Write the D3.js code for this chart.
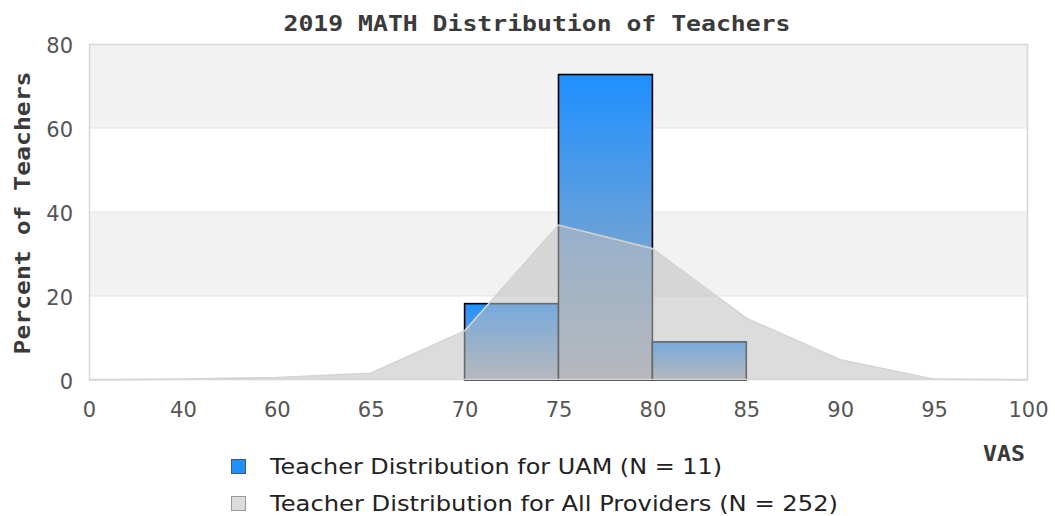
<!DOCTYPE html>
<html><head><meta charset="utf-8">
<script src="https://cdn.jsdelivr.net/npm/d3@7"></script>
<style>body{margin:0;background:#fff}</style>
</head><body><svg id="c" width="1055" height="516"></svg>
<script>
const categories = ["0","40","60","65","70","75","80","85","90","95","100"];
const allProviders = [0,0.2,0.6,1.6,11.7,36.9,31.3,14.7,4.8,0.2,0];
const uamBins = ["70","75","80"];
const uamValues = [18.18,72.73,9.09];
const yTicks = [0,20,40,60,80];
const titleText = "2019 MATH Distribution of Teachers";
const yTitle = "Percent of Teachers";
const xTitle = "VAS";
const legendLabels = ["Teacher Distribution for UAM (N = 11)","Teacher Distribution for All Providers (N = 252)"];

const svg = d3.select("#c");
const L = 89, R = 1028, T = 44, B = 380;
const x = d3.scalePoint().domain(categories).range([L, R]);
const y = d3.scaleLinear().domain([0, 80]).range([B, T]);

const defs = svg.append("defs");
const g = defs.append("linearGradient").attr("id","barGrad").attr("x1",0).attr("y1",0).attr("x2",0).attr("y2",1);
g.append("stop").attr("offset","0%").attr("stop-color","#1e90ff");
g.append("stop").attr("offset","100%").attr("stop-color","#acb0b8");

// bands
for (let i = 0; i < yTicks.length - 1; i++) {
  svg.append("rect").attr("x", L).attr("width", R - L)
    .attr("y", y(yTicks[i+1])).attr("height", y(yTicks[i]) - y(yTicks[i+1]))
    .attr("fill", i % 2 === 1 ? "#f2f2f2" : "#ffffff");
}
svg.selectAll("line.grid").data(yTicks.slice(1, -1)).enter().append("line")
  .attr("x1", L).attr("x2", R).attr("y1", d => y(d)).attr("y2", d => y(d))
  .attr("stroke", "#e3e3e3").attr("stroke-width", 1);

// bars
svg.selectAll("rect.bar").data(uamBins).enter().append("rect")
  .attr("x", d => x(d))
  .attr("width", d => x(categories[categories.indexOf(d) + 1]) - x(d))
  .attr("y", (d, i) => y(uamValues[i]))
  .attr("height", (d, i) => y(0) - y(uamValues[i]))
  .attr("fill", "url(#barGrad)").attr("stroke", "#000").attr("stroke-width", 1.6);

// area overlay
const area = d3.area().x((d, i) => x(categories[i])).y0(y(0)).y1(d => y(d));
const line = d3.line().x((d, i) => x(categories[i])).y(d => y(d));
svg.append("path").datum(allProviders).attr("d", area)
  .attr("fill", "#c0c0c0").attr("fill-opacity", 0.55);
svg.append("path").datum(allProviders).attr("d", line)
  .attr("fill", "none").attr("stroke", "#d4d4d4").attr("stroke-width", 1.6);

// frame
svg.append("rect").attr("x", L + 0.5).attr("y", T + 0.5).attr("width", R - L - 1).attr("height", B - T - 1)
  .attr("fill", "none").attr("stroke", "#d6d6d6").attr("stroke-width", 1.5);

// axes
const xa = svg.append("g").attr("transform", `translate(0,${B})`)
  .call(d3.axisBottom(x).tickSize(0).tickPadding(22));
xa.select(".domain").remove();
xa.selectAll("text").attr("font-family", "DejaVu Sans").attr("font-size", 21).attr("fill", "#555");

const ya = svg.append("g").attr("transform", `translate(${L},0)`)
  .call(d3.axisLeft(y).tickValues(yTicks).tickSize(0).tickPadding(16));
ya.select(".domain").remove();
ya.selectAll("text").attr("font-family", "DejaVu Sans").attr("font-size", 21).attr("fill", "#555").attr("dy", "0.4em");

// titles
svg.append("text").attr("x", 537).attr("y", 31).attr("text-anchor", "middle")
  .attr("font-family", "DejaVu Sans Mono").attr("font-weight", "bold").attr("font-size", 22)
  .attr("fill", "#3a3a3a").attr("textLength", 507).attr("lengthAdjust", "spacingAndGlyphs").text(titleText);
svg.append("text").attr("transform", "translate(30,213) rotate(-90)").attr("text-anchor", "middle")
  .attr("font-family", "DejaVu Sans Mono").attr("font-weight", "bold").attr("font-size", 22)
  .attr("fill", "#3a3a3a").attr("textLength", 283).attr("lengthAdjust", "spacingAndGlyphs").text(yTitle);
svg.append("text").attr("x", 1004).attr("y", 461).attr("text-anchor", "middle")
  .attr("font-family", "DejaVu Sans Mono").attr("font-weight", "bold").attr("font-size", 22)
  .attr("fill", "#3a3a3a").attr("textLength", 42).attr("lengthAdjust", "spacingAndGlyphs").text(xTitle);

// legend
const legFill = ["#1e90ff", "#dcdcdc"], legStroke = ["#555", "#999"];
const legY = [474, 511], legW = [452, 568];
legendLabels.forEach((lab, i) => {
  svg.append("rect").attr("x", 231.5).attr("y", legY[i] - 14.5).attr("width", 14).attr("height", 14)
    .attr("fill", legFill[i]).attr("stroke", legStroke[i]).attr("stroke-width", 1);
  svg.append("text").attr("x", 270).attr("y", legY[i])
    .attr("font-family", "DejaVu Sans").attr("font-size", 22).attr("fill", "#222")
    .attr("textLength", legW[i]).attr("lengthAdjust", "spacingAndGlyphs").text(lab);
});
</script></body></html>
